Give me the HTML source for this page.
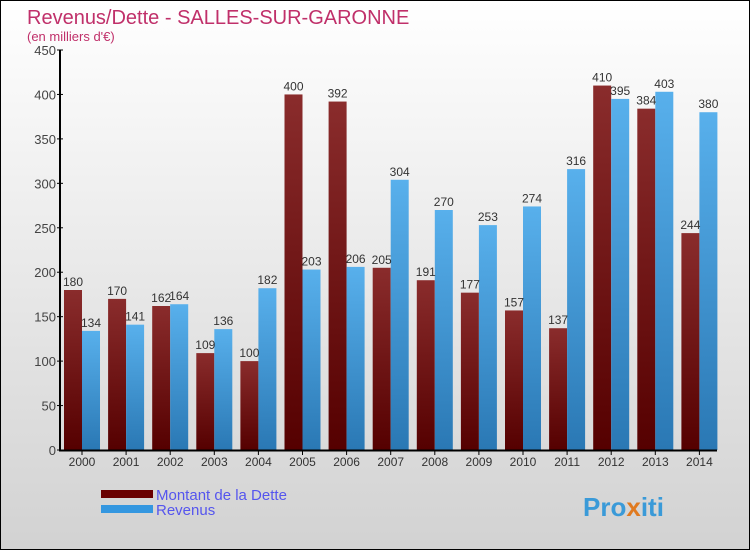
<!DOCTYPE html>
<html><head><meta charset="utf-8"><style>
body{margin:0}
#c{width:748px;height:548px;border:1px solid #000;background:linear-gradient(#fff,#d2d2d2);position:relative;font-family:"Liberation Sans",sans-serif}
</style></head><body>
<div id="c">
<svg width="748" height="548" id="svg" style="position:absolute;left:0;top:0">
<defs>
<linearGradient id="gd" x1="0" y1="0" x2="0" y2="1"><stop offset="0" stop-color="#8a2c2c"/><stop offset="1" stop-color="#550000"/></linearGradient>
<linearGradient id="gr" x1="0" y1="0" x2="0" y2="1"><stop offset="0" stop-color="#58b0ec"/><stop offset="1" stop-color="#2a78b4"/></linearGradient>
</defs>
<text x="26" y="23" font-size="20" fill="#c0306a">Revenus/Dette - SALLES-SUR-GARONNE</text>
<text x="26" y="40" font-size="13" fill="#c0306a">(en milliers d'€)</text>
<g id="g"></g>
<rect x="100" y="489" width="52" height="8" fill="#6a0000"/>
<rect x="100" y="504" width="52" height="8" fill="#3497e0"/>
<text x="155" y="499" font-size="15" fill="#5555ee">Montant de la Dette</text>
<text x="155" y="514" font-size="15" fill="#5555ee">Revenus</text>
<text x="582" y="515" font-size="26" font-weight="bold" fill="#3a9ad8">Pro<tspan fill="#e07a20">x</tspan>iti</text>
</svg>
</div>
<script>
const years=["2000","2001","2002","2003","2004","2005","2006","2007","2008","2009","2010","2011","2012","2013","2014"];
const dette=[180,170,162,109,100,400,392,205,191,177,157,137,410,384,244];
const revenus=[134,141,164,136,182,203,206,304,270,253,274,316,395,403,380];
const ticks=[0,50,100,150,200,250,300,350,400,450];
const g=document.getElementById('g');const NS='http://www.w3.org/2000/svg';
const y=v=>449-v*400/450;const cx=i=>81+44.1*i;
function mk(t,a){const e=document.createElementNS(NS,t);for(const k in a)e.setAttribute(k,a[k]);g.appendChild(e);return e;}
ticks.forEach(t=>{
const l=mk('line',{x1:56,x2:62,y1:y(t),y2:y(t),stroke:'#000'});


const tx=mk('text',{x:55,y:y(t)+5,'font-size':13,fill:'#444','text-anchor':'end'});tx.textContent=t;


});
years.forEach((yr,i)=>{
const c=cx(i);
const b1=mk('rect',{x:c-18,y:y(dette[i]),width:18,height:449-y(dette[i]),fill:'url(#gd)'});


const b2=mk('rect',{x:c,y:y(revenus[i]),width:18,height:449-y(revenus[i]),fill:'url(#gr)'});


const v1=mk('text',{x:c-9,y:y(dette[i])-4,'font-size':12,fill:'#333','text-anchor':'middle'});v1.textContent=dette[i];


const v2=mk('text',{x:c+9,y:y(revenus[i])-4,'font-size':12,fill:'#333','text-anchor':'middle'});v2.textContent=revenus[i];


const tk=mk('line',{x1:c,x2:c,y1:449,y2:454,stroke:'#000'});


const xl=mk('text',{x:c,y:465,'font-size':12,fill:'#333','text-anchor':'middle'});xl.textContent=yr;


});
const ax=mk('line',{x1:59,x2:59,y1:49,y2:450,stroke:'#000','stroke-width':2});


const bx=mk('line',{x1:58,x2:716,y1:449.5,y2:449.5,stroke:'#000','stroke-width':2});


</script>
</body></html>
